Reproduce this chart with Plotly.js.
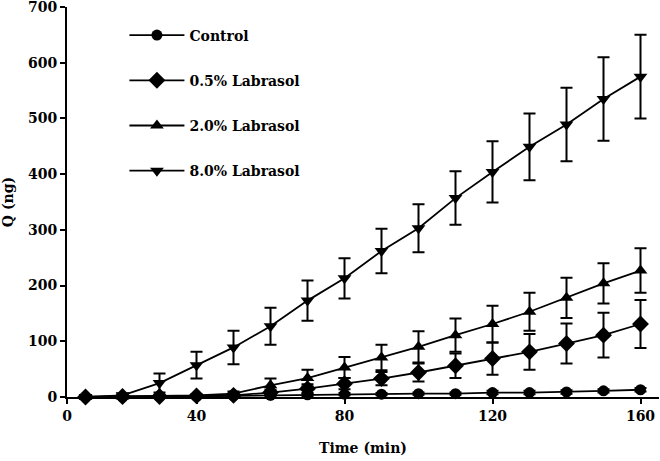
<!DOCTYPE html>
<html>
<head>
<meta charset="utf-8">
<script src="https://cdn.plot.ly/plotly-3.0.1.min.js"></script>
<style>
  html, body { margin: 0; padding: 0; background: #fff; }
  #chart { width: 660px; height: 461px; }
</style>
</head>
<body>
<div id="chart"></div>
<script>
// Time points (min)
const time = [10, 20, 30, 40, 50, 60, 70, 80, 90, 100, 110, 120, 130, 140, 150, 160];

// Series names
const seriesNames = ["Control", "0.5% Labrasol", "2.0% Labrasol", "8.0% Labrasol"];

// Q (ng) values and SD error bars
const control    = [0, 0, 1, 1, 2, 3, 4, 5, 5, 6, 6, 8, 8, 9, 11, 13];
const controlErr = [1, 1, 1, 1, 1, 2, 2, 2, 2, 2, 2, 3, 3, 3, 3, 3];

const lab05    = [0, 1, 1, 2, 3, 8, 15, 24, 33, 44, 56, 69, 81, 96, 111, 131];
const lab05Err = [1, 1, 1, 2, 3, 5, 8, 10, 12, 16, 22, 29, 32, 36, 40, 43];

const lab20    = [0, 1, 2, 3, 6, 21, 34, 53, 71, 90, 111, 131, 153, 178, 204, 227];
const lab20Err = [1, 1, 1, 2, 4, 12, 15, 19, 23, 28, 30, 33, 34, 36, 36, 40];

const lab80    = [0, 3, 25, 57, 89, 127, 173, 213, 262, 303, 357, 404, 449, 489, 535, 575];
const lab80Err = [2, 3, 17, 24, 30, 33, 36, 36, 40, 43, 48, 55, 60, 66, 75, 75];

// Axis ticks
const xTickVals = [5, 40, 80, 120, 160];
const xTickText = ["0", "40", "80", "120", "160"];
const yTickVals = [0, 100, 200, 300, 400, 500, 600, 700];

const FONT = "DejaVu Serif";

function mk(name, y, err, symbol, size) {
  return {
    x: time, y: y, name: name, type: "scatter", mode: "lines+markers",
    legendgroup: name,
    line: { color: "#000", width: 1.8 },
    marker: { color: "#000", symbol: symbol, size: size },
    error_y: { type: "data", array: err, visible: true, color: "#000", thickness: 2, width: 6 },
    cliponaxis: false
  };
}

const data = [
  mk(seriesNames[0], control, controlErr, "circle", 11),
  mk(seriesNames[1], lab05, lab05Err, "diamond", 13),
  mk(seriesNames[2], lab20, lab20Err, "triangle-up", 12),
  mk(seriesNames[3], lab80, lab80Err, "triangle-down", 12)
];

const layout = {
  width: 660, height: 461,
  margin: { l: 67, r: 1, t: 7, b: 64 },
  paper_bgcolor: "#fff", plot_bgcolor: "#fff",
  font: { family: FONT, size: 14, color: "#000", weight: "bold" },
  showlegend: true,
  legend: {
    x: 0.097, y: 0.968, xanchor: "left", yanchor: "top",
    bgcolor: "rgba(0,0,0,0)", borderwidth: 0,
    itemwidth: 55, traceorder: "grouped", tracegroupgap: 24,
    font: { family: FONT, size: 14, color: "#000", weight: "bold" }
  },
  xaxis: {
    range: [5, 165], tickmode: "array", tickvals: xTickVals, ticktext: xTickText,
    showgrid: false, zeroline: false, showline: true, linecolor: "#000", linewidth: 2,
    ticks: "outside", ticklen: 5, tickwidth: 2, tickcolor: "#000",
    ticklabeloverflow: "allow",
    tickfont: { family: FONT, size: 14, color: "#000", weight: "bold" },
    title: { text: "Time (min)", standoff: 20, font: { family: FONT, size: 14, color: "#000", weight: "bold" } }
  },
  yaxis: {
    range: [0, 700], tickmode: "array", tickvals: yTickVals,
    showgrid: false, zeroline: false, showline: true, linecolor: "#000", linewidth: 2,
    ticks: "outside", ticklen: 5, tickwidth: 2, tickcolor: "#000",
    ticklabeloverflow: "allow",
    tickfont: { family: FONT, size: 14, color: "#000", weight: "bold" },
    title: { text: "Q (ng)", standoff: 12, font: { family: FONT, size: 14, color: "#000", weight: "bold" } }
  }
};

Plotly.newPlot("chart", data, layout, { displayModeBar: false, staticPlot: true });
</script>
</body>
</html>
